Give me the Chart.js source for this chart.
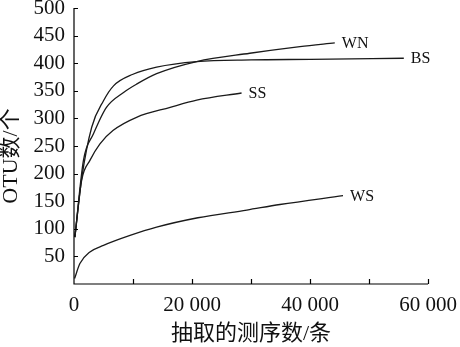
<!DOCTYPE html>
<html>
<head>
<meta charset="utf-8">
<script src="https://cdn.jsdelivr.net/npm/chart.js@4"></script>
<style>
  html, body { margin: 0; padding: 0; background: #fff; }
  #wrap { width: 460px; height: 347px; }
</style>
</head>
<body>
<div id="wrap"><canvas id="rare"></canvas></div>
<script>
// rarefaction curves: sequences drawn vs OTU count
const wnX = [150, 1600, 3300, 5500, 8400, 10600, 14000, 20800, 29800, 38300, 44200];
const wnY = [85, 224, 272, 320, 347, 362, 381, 403, 418, 430, 437];

const bsX = [150, 1300, 3000, 5000, 6700, 10000, 14000, 20800, 30000, 40000, 55900];
const bsY = [85, 191, 284, 332, 359, 380, 393, 403, 406, 407, 409];

const ssX = [150, 1300, 2700, 4400, 6600, 10600, 16300, 20800, 28400];
const ssY = [85, 188, 224, 254, 278, 302, 320, 333, 346];

const wsX = [100, 1000, 2700, 5000, 9500, 14000, 21000, 29300, 34900, 45600];
const wsY = [10, 37, 58, 70, 88, 103, 120, 134, 144, 160];

const seriesNames = ['WN', 'BS', 'SS', 'WS'];
const yTitle = 'OTU数/个';
const xTitle = '抽取的测序数/条';

const serif = '"Liberation Serif", "Noto Sans CJK SC", serif';

function pts(xs, ys) { return xs.map((x, i) => ({x: x, y: ys[i]})); }

function mkSet(name, xs, ys) {
  return {
    label: name,
    data: pts(xs, ys),
    borderColor: '#1a1a1a',
    borderWidth: 1.3,
    pointRadius: 0,
    cubicInterpolationMode: 'monotone',
    fill: false
  };
}

// axes with inward ticks, end labels, y title
const deco = {
  id: 'deco',
  afterDraw(chart) {
    const c = chart.ctx, xs = chart.scales.x, ys = chart.scales.y;
    const a = chart.chartArea;
    c.save();
    c.strokeStyle = '#000';
    c.lineWidth = 1.2;
    c.beginPath();
    c.moveTo(a.left, a.top); c.lineTo(a.left, a.bottom); c.lineTo(a.right, a.bottom);
    for (let v = 50; v <= 500; v += 50) {
      const y = Math.round(ys.getPixelForValue(v)) + 0.5;
      c.moveTo(a.left, y); c.lineTo(a.left + 4, y);
    }
    for (let v = 10000; v <= 60000; v += 10000) {
      const x = Math.round(xs.getPixelForValue(v)) + 0.5;
      c.moveTo(x, a.bottom); c.lineTo(x, a.bottom - 5);
    }
    c.stroke();

    c.fillStyle = '#111';
    c.font = '16px ' + serif;
    c.textBaseline = 'middle';
    c.textAlign = 'left';
    chart.data.datasets.forEach(ds => {
      const last = ds.data[ds.data.length - 1];
      c.fillText(ds.label, xs.getPixelForValue(last.x) + 7, ys.getPixelForValue(last.y) + 1);
    });

    c.font = '22px ' + serif;
    c.translate(11, 156);
    c.rotate(-Math.PI / 2);
    c.textAlign = 'center';
    c.fillText(yTitle, 0, 0);
    c.restore();
  }
};

new Chart(document.getElementById('rare'), {
  type: 'line',
  data: {
    datasets: [
      mkSet(seriesNames[0], wnX, wnY),
      mkSet(seriesNames[1], bsX, bsY),
      mkSet(seriesNames[2], ssX, ssY),
      mkSet(seriesNames[3], wsX, wsY)
    ]
  },
  options: {
    responsive: true,
    maintainAspectRatio: false,
    animation: false,
    layout: { padding: { top: 8, right: 32, left: 0, bottom: 0 } },
    plugins: { legend: { display: false }, tooltip: { enabled: false } },
    scales: {
      x: {
        type: 'linear',
        min: 0, max: 60000,
        border: { display: false },
        grid: { display: false, drawTicks: false },
        ticks: {
          stepSize: 10000,
          padding: 9,
          maxRotation: 0,
          autoSkip: false,
          color: '#111',
          font: { family: serif, size: 21 },
          callback: v => v % 20000 === 0 ? (v === 0 ? '0' : (v / 1000) + ' 000') : ''
        },
        title: {
          display: true,
          text: xTitle,
          color: '#111',
          font: { family: serif, size: 22 },
          padding: { top: 2, bottom: 0 }
        },
        afterFit: s => { s.height = 63; s.paddingLeft = 0; s.paddingRight = 0; }
      },
      y: {
        min: 0, max: 500,
        border: { display: false },
        grid: { display: false, drawTicks: false },
        ticks: {
          stepSize: 50,
          padding: 9,
          autoSkip: false,
          color: '#111',
          font: { family: serif, size: 21 },
          callback: v => v === 0 ? '' : v
        },
        afterFit: s => { s.width = 74; s.paddingTop = 0; s.paddingBottom = 0; }
      }
    }
  },
  plugins: [deco]
});
</script>
</body>
</html>
